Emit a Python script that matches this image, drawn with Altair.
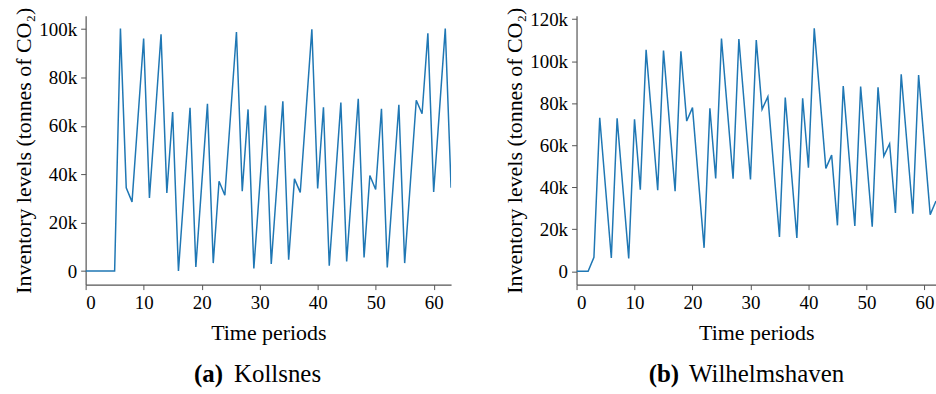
import altair as alt
import pandas as pd

kollsnes_k = [0, 0, 0, 0, 0, 0, 100.2, 34.4, 28.6, 62.4, 96.1, 30.2, 64.0, 97.8, 32.3, 65.7,
              0, 33.7, 67.5, 1.7, 35.4, 69.1, 3.3, 37.1, 31.3, 65.0, 98.8, 33.0, 66.8, 1.1,
              34.8, 68.4, 2.9, 36.5, 70.2, 4.7, 38.1, 32.5, 66.2, 99.9, 34.1, 67.7, 2.2, 35.9,
              69.6, 4.0, 37.6, 71.2, 5.6, 39.5, 33.7, 67.1, 1.5, 35.1, 68.7, 3.3, 37.0, 70.6,
              65.0, 98.3, 32.7, 66.4, 100.2, 34.4]
wilhelmshaven_k = [0, 0, 0, 6.7, 73.1, 39.8, 6.4, 72.8, 39.4, 6.1, 72.3, 38.9, 105.4, 72.0, 38.6,
                   105.1, 71.6, 38.1, 104.7, 71.5, 77.9, 44.5, 11.2, 77.6, 44.2, 110.8, 77.4,
                   44.1, 110.5, 77.1, 43.7, 110.0, 77.1, 83.1, 49.8, 16.4, 82.7, 49.3, 15.9,
                   82.3, 49.3, 115.6, 82.3, 49.0, 55.3, 21.9, 88.2, 54.9, 21.6, 87.9, 54.6,
                   21.3, 87.6, 54.8, 60.7, 27.8, 93.8, 60.6, 27.4, 93.4, 60.2, 27.0, 33.5]
x_ticks = [0, 10, 20, 30, 40, 50, 60]
y_ticks_a = [0, 20000, 40000, 60000, 80000, 100000]
y_ticks_b = [0, 20000, 40000, 60000, 80000, 100000, 120000]

FONT = "Liberation Serif, Times New Roman, serif"
Y_TITLE = "Inventory levels (tonnes of CO₂)"
W_A, W_B, H = 367, 361, 270


def panel(values, width, xdom, ydom, yticks, tag, name, tag_x, name_x):
    df = pd.DataFrame({"t": list(range(len(values))), "v": [v * 1000 for v in values]})
    line = alt.Chart(df).mark_line(color="#1f77b4", strokeWidth=1.5, clip=True).encode(
        x=alt.X("t:Q", scale=alt.Scale(domain=xdom, nice=False, zero=False),
                axis=alt.Axis(values=x_ticks, title="Time periods", grid=False,
                              labelFont=FONT, titleFont=FONT, labelFontSize=19, titleFontSize=22,
                              tickSize=5, labelPadding=4, titlePadding=10)),
        y=alt.Y("v:Q", scale=alt.Scale(domain=ydom, nice=False, zero=False),
                axis=alt.Axis(values=yticks, title=Y_TITLE, grid=False, tickSize=5,
                              labelFont=FONT, titleFont=FONT, labelFontSize=19, titleFontSize=22,
                              labelPadding=4, titlePadding=3,
                              labelExpr="datum.value == 0 ? '0' : format(datum.value/1000, 'd') + 'k'")),
    )
    cap_df = pd.DataFrame({"a": [tag], "b": [name]})
    cap1 = alt.Chart(cap_df).mark_text(font=FONT, fontSize=25, fontWeight="bold", align="right",
                                       baseline="alphabetic", color="black").encode(
        text="a:N", x=alt.value(tag_x), y=alt.value(H + 98))
    cap2 = alt.Chart(cap_df).mark_text(font=FONT, fontSize=25, fontWeight="normal", align="left",
                                       baseline="alphabetic", color="black").encode(
        text="b:N", x=alt.value(name_x), y=alt.value(H + 98))
    return alt.layer(line, cap1, cap2).properties(width=width, height=H)


a = panel(kollsnes_k, W_A, [0, 63], [-5600, 105500], y_ticks_a, "(a)", "Kollsnes", 138, 149)
b = panel(wilhelmshaven_k, W_B, [0, 62], [-6300, 121600], y_ticks_b, "(b)", "Wilhelmshaven", 103, 113)

chart = alt.hconcat(a, b, spacing=52).properties(
    padding={"left": 12, "top": 6, "right": 0, "bottom": 0}
).configure_view(stroke=None).configure_text(font=FONT).configure_axis(
    labelFont=FONT, titleFont=FONT, labelFontSize=19, titleFontSize=22,
    labelColor="black", titleColor="black", titleFontWeight="normal",
    domainColor="#555555", tickColor="#555555", domainWidth=1.2,
)

chart.save("out.html", embed_options={"renderer": "svg", "actions": False})
